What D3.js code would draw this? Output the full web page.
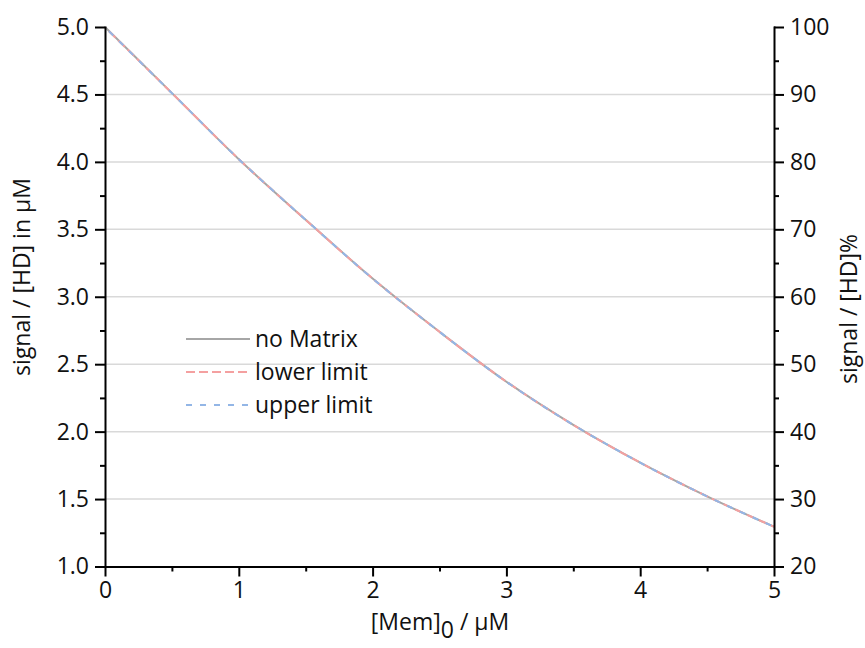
<html>
<head>
  <style>
	body{ margin:0; background:#fff }
	.chart text{
		font-family:"Open Sans", sans-serif;
		fill:#111
	}
	.axis path, .axis line{ stroke:#000; stroke-width:2px }
	.grid line{ stroke:#d9d9d9; stroke-width:1.5px }
  </style>
</head>
<body>
	<div id="chart"></div>
	<script src="https://d3js.org/d3.v7.min.js"></script>
	<script>
	  (function () {
		  // data
		  var memConc   = [0, 0.5, 1, 1.5, 2, 2.5, 3, 3.5, 4, 4.5, 5],
		      noMatrix  = [5.0, 4.51, 4.02, 3.57, 3.135, 2.74, 2.37, 2.05, 1.77, 1.52, 1.295],
		      limConc   = [0.03, 0.5, 1, 1.5, 2, 2.5, 3, 3.5, 4, 4.5, 5],
		      lowerLim  = [4.968, 4.51, 4.02, 3.57, 3.135, 2.74, 2.37, 2.05, 1.77, 1.52, 1.295],
		      upperLim  = [4.968, 4.51, 4.02, 3.57, 3.135, 2.74, 2.37, 2.05, 1.77, 1.52, 1.295],
		      xTicks    = [0, 1, 2, 3, 4, 5],
		      yTicks    = [1.0, 1.5, 2.0, 2.5, 3.0, 3.5, 4.0, 4.5, 5.0],
		      y2Ticks   = [20, 30, 40, 50, 60, 70, 80, 90, 100],
		      legendNames = ['no Matrix', 'lower limit', 'upper limit'];

		  var
		    width   = 865,
		    height  = 648,
		    left    = 105,
		    right   = 774,
		    top     = 27,
		    bottom  = 566.5,
		    xScale  = d3.scaleLinear().domain([0, 5]).range([left, right]),
		    yScale  = d3.scaleLinear().domain([1, 5]).range([bottom, top]),
		    y2Scale = d3.scaleLinear().domain([20, 100]).range([bottom, top]),
		    svg     = d3.select('#chart').append('svg')
		                .attr('class', 'chart')
		                .attr('width', width)
		                .attr('height', height);

		  // horizontal grid
		  svg.append('g')
		    .attr('class', 'grid')
		    .selectAll('line')
		    .data(yTicks.filter(function (d) { return d > 1 && d < 5; }))
		    .enter().append('line')
		    .attr('x1', left).attr('x2', right)
		    .attr('y1', yScale).attr('y2', yScale);

		  var series = [
		    { xs: memConc, vals: noMatrix, color: '#a6a6a6', dash: null },
		    { xs: limConc, vals: lowerLim, color: '#f4a0a0', dash: '9,4' },
		    { xs: limConc, vals: upperLim, color: '#93b6e6', dash: '6,8' }
		  ];

		  series.forEach(function (s) {
		    var line = d3.line()
		      .x(function (d, i) { return xScale(s.xs[i]); })
		      .y(function (d) { return yScale(d); })
		      .curve(d3.curveMonotoneX);
		    svg.append('path')
		      .attr('d', line(s.vals))
		      .attr('fill', 'none')
		      .attr('stroke', s.color)
		      .attr('stroke-width', 2)
		      .attr('stroke-dasharray', s.dash);
		  });

		  // axes
		  function styleText(g) {
		    g.selectAll('text').style('font-size', '23px');
		    g.select('.domain').attr('stroke-linecap', 'square');
		  }

		  var minorX = d3.range(0.5, 5, 1),
		      minorY = d3.range(1.25, 5, 0.5),
		      minorY2 = d3.range(25, 100, 10);

		  svg.append('g').attr('class', 'axis')
		    .attr('transform', 'translate(0,' + bottom + ')')
		    .call(d3.axisBottom(xScale).tickValues(xTicks).tickSize(10).tickSizeOuter(0).tickPadding(5).tickFormat(d3.format('d')))
		    .call(styleText);
		  svg.append('g').attr('class', 'axis')
		    .attr('transform', 'translate(0,' + bottom + ')')
		    .call(d3.axisBottom(xScale).tickValues(minorX).tickSize(5).tickFormat(''))
		    .select('.domain').remove();

		  svg.append('g').attr('class', 'axis')
		    .attr('transform', 'translate(' + left + ',0)')
		    .call(d3.axisLeft(yScale).tickValues(yTicks).tickSize(10).tickSizeOuter(0).tickPadding(6).tickFormat(d3.format('.1f')))
		    .call(styleText);
		  svg.append('g').attr('class', 'axis')
		    .attr('transform', 'translate(' + left + ',0)')
		    .call(d3.axisLeft(yScale).tickValues(minorY).tickSize(5).tickFormat(''))
		    .select('.domain').remove();

		  svg.append('g').attr('class', 'axis')
		    .attr('transform', 'translate(' + right + ',0)')
		    .call(d3.axisRight(y2Scale).tickValues(y2Ticks).tickSize(10).tickSizeOuter(0).tickPadding(6))
		    .call(styleText);
		  svg.append('g').attr('class', 'axis')
		    .attr('transform', 'translate(' + right + ',0)')
		    .call(d3.axisRight(y2Scale).tickValues(minorY2).tickSize(5).tickFormat(''))
		    .select('.domain').remove();

		  // axis titles
		  var xt = svg.append('text')
		    .attr('x', 440).attr('y', 630)
		    .attr('text-anchor', 'middle')
		    .style('font-size', '23px');
		  xt.append('tspan').text('[Mem]');
		  xt.append('tspan').attr('dy', 8).text('0');
		  xt.append('tspan').attr('dy', -8).text(' / \u00b5M');

		  svg.append('text')
		    .attr('transform', 'translate(30,277) rotate(-90)')
		    .attr('text-anchor', 'middle')
		    .style('font-size', '23px')
		    .text('signal / [HD] in  \u00b5M');

		  svg.append('text')
		    .attr('transform', 'translate(857,309) rotate(-90)')
		    .attr('text-anchor', 'middle')
		    .style('font-size', '23px')
		    .text('signal / [HD]%');

		  // legend
		  var legend = svg.append('g').attr('transform', 'translate(186,339)');
		  legendNames.forEach(function (name, i) {
		    var row = legend.append('g').attr('transform', 'translate(0,' + (i * 33) + ')');
		    row.append('line')
		      .attr('x1', 0).attr('x2', 64)
		      .attr('stroke', series[i].color)
		      .attr('stroke-width', 2)
		      .attr('stroke-dasharray', series[i].dash);
		    row.append('text')
		      .attr('x', 69).attr('dy', '0.35em')
		      .style('font-size', '23px')
		      .text(name);
		  });
		})();
	</script>
</body>
</html>
